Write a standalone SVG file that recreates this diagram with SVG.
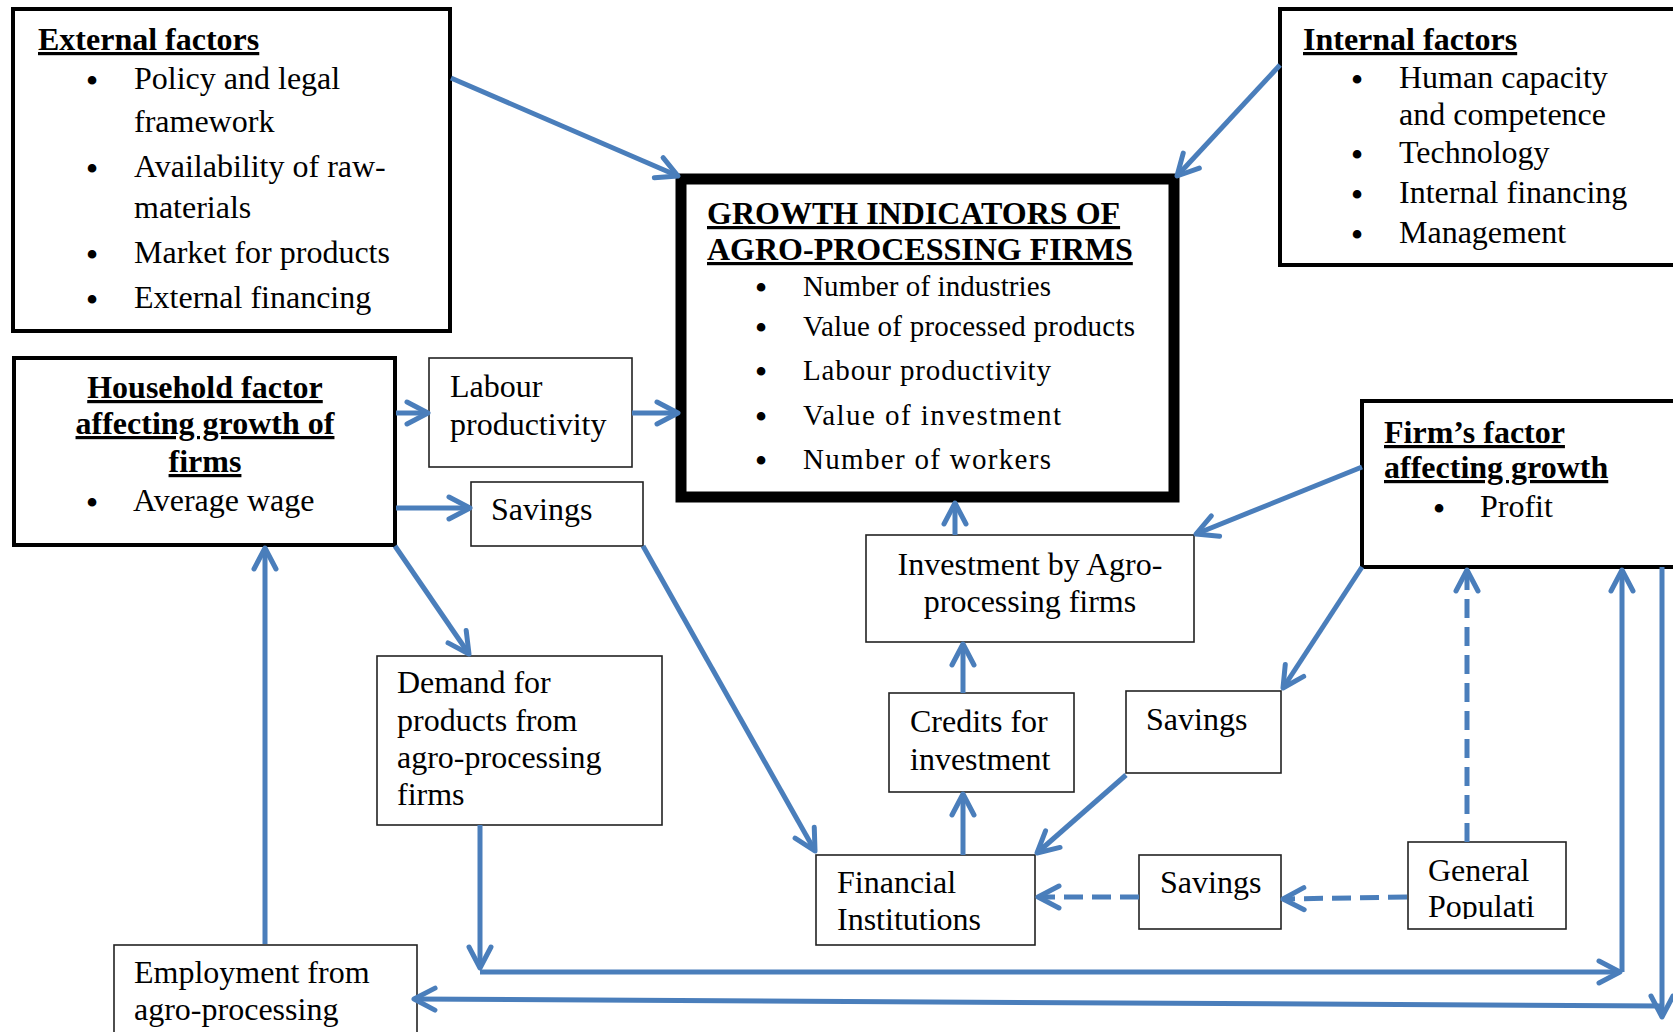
<svg xmlns="http://www.w3.org/2000/svg" width="1673" height="1032" viewBox="0 0 1673 1032">
<style>
text{font-family:"Liberation Serif","Times New Roman",serif;font-size:32px;fill:#000}
.b{font-weight:bold}
.u{text-decoration:underline;text-decoration-thickness:3px;text-decoration-skip-ink:none}
.s29{font-size:29px}
.mid{text-anchor:middle}
.bl{font-size:36px;text-anchor:middle}
.thick{fill:#fff;stroke:#000;stroke-width:4}
.thin{fill:#fff;stroke:#222;stroke-width:1.6}
.main{fill:#fff;stroke:#000;stroke-width:11}
.c{fill:none;stroke:#4a7ebb;stroke-width:5}
.d{stroke-dasharray:19 9}
.arr{marker-end:url(#ah)}
</style>
<defs>
<marker id="ah" markerUnits="userSpaceOnUse" markerWidth="40" markerHeight="40" viewBox="-30 -20 40 40" refX="0" refY="0" orient="auto" overflow="visible">
<path d="M-21,-11 L0,0 L-21,11" fill="none" stroke="#4a7ebb" stroke-width="5" stroke-linecap="round" stroke-linejoin="round"/>
</marker>
<clipPath id="gpclip"><rect x="1408" y="842" width="160" height="77"/></clipPath>
</defs>
<rect width="1673" height="1032" fill="#fff"/>

<g id="external">
<rect class="thick" x="13" y="9" width="437" height="322"/>
<text class="b u" x="38" y="50">External factors</text>
<text class="bl" x="92" y="93">•</text>
<text x="134" y="89">Policy and legal</text>
<text x="134" y="132">framework</text>
<text class="bl" x="92" y="181">•</text>
<text x="134" y="177">Availability of raw-</text>
<text x="134" y="218">materials</text>
<text class="bl" x="92" y="267">•</text>
<text x="134" y="263">Market for products</text>
<text class="bl" x="92" y="312">•</text>
<text x="134" y="308">External financing</text>
</g>

<g id="internal">
<rect class="thick" x="1280" y="9" width="420" height="256"/>
<text class="b u" x="1303" y="50">Internal factors</text>
<text class="bl" x="1357" y="92">•</text>
<text x="1399" y="88">Human capacity</text>
<text x="1399" y="125">and competence</text>
<text class="bl" x="1357" y="167">•</text>
<text x="1399" y="163">Technology</text>
<text class="bl" x="1357" y="207">•</text>
<text x="1399" y="203">Internal financing</text>
<text class="bl" x="1357" y="247">•</text>
<text x="1399" y="243">Management</text>
</g>

<g id="growth-indicators">
<rect class="main" x="681" y="179" width="493" height="318"/>
<text class="b u" x="707" y="224">GROWTH INDICATORS OF</text>
<text class="b u" x="707" y="260">AGRO-PROCESSING FIRMS</text>
<text class="bl" x="761" y="300">•</text>
<text class="s29" x="803" y="296" textLength="248" lengthAdjust="spacing">Number of industries</text>
<text class="bl" x="761" y="340">•</text>
<text class="s29" x="803" y="336" textLength="332" lengthAdjust="spacing">Value of processed products</text>
<text class="bl" x="761" y="384">•</text>
<text class="s29" x="803" y="380" textLength="248" lengthAdjust="spacing">Labour productivity</text>
<text class="bl" x="761" y="429">•</text>
<text class="s29" x="803" y="425" textLength="258" lengthAdjust="spacing">Value of investment</text>
<text class="bl" x="761" y="473">•</text>
<text class="s29" x="803" y="469" textLength="248" lengthAdjust="spacing">Number of workers</text>
</g>

<g id="household">
<rect class="thick" x="14" y="358" width="381" height="187"/>
<text class="b u mid" x="205" y="398">Household factor</text>
<text class="b u mid" x="205" y="434">affecting growth of</text>
<text class="b u mid" x="205" y="472">firms</text>
<text class="bl" x="92" y="515">•</text>
<text x="133" y="511">Average wage</text>
</g>

<g id="labour">
<rect class="thin" x="429" y="358" width="203" height="109"/>
<text x="450" y="397">Labour</text>
<text x="450" y="435">productivity</text>
</g>

<g id="savings-household">
<rect class="thin" x="471" y="482" width="172" height="64"/>
<text x="491" y="520">Savings</text>
</g>

<g id="demand">
<rect class="thin" x="377" y="656" width="285" height="169"/>
<text x="397" y="693">Demand for</text>
<text x="397" y="731">products from</text>
<text x="397" y="768">agro-processing</text>
<text x="397" y="805">firms</text>
</g>

<g id="employment">
<rect class="thin" x="114" y="945" width="303" height="110"/>
<text x="134" y="983">Employment from</text>
<text x="134" y="1020">agro-processing</text>
</g>

<g id="investment">
<rect class="thin" x="866" y="535" width="328" height="107"/>
<text class="mid" x="1030" y="575">Investment by Agro-</text>
<text class="mid" x="1030" y="612">processing firms</text>
</g>

<g id="credits">
<rect class="thin" x="889" y="693" width="185" height="99"/>
<text x="910" y="732">Credits for</text>
<text x="910" y="770">investment</text>
</g>

<g id="savings-firm">
<rect class="thin" x="1126" y="691" width="155" height="82"/>
<text x="1146" y="730">Savings</text>
</g>

<g id="financial">
<rect class="thin" x="816" y="855" width="219" height="90"/>
<text x="837" y="893">Financial</text>
<text x="837" y="930">Institutions</text>
</g>

<g id="savings-population">
<rect class="thin" x="1139" y="855" width="142" height="74"/>
<text x="1160" y="893">Savings</text>
</g>

<g id="general-population">
<rect class="thin" x="1408" y="842" width="158" height="87"/>
<text x="1428" y="881">General</text>
<text x="1428" y="917" clip-path="url(#gpclip)">Populati</text>
</g>

<g id="firm">
<rect class="thick" x="1362" y="401" width="340" height="166"/>
<text class="b u" x="1384" y="443">Firm’s factor</text>
<text class="b u" x="1384" y="478">affecting growth</text>
<text class="bl" x="1439" y="521">•</text>
<text x="1480" y="517">Profit</text>
</g>

<g id="connectors">
<path class="c arr" d="M451,78 L678,176"/>
<path class="c arr" d="M1280,65 L1177,176"/>
<path class="c arr" d="M396,413 L428,413"/>
<path class="c arr" d="M632,413 L678,413"/>
<path class="c arr" d="M396,508 L470,508"/>
<path class="c arr" d="M395,546 L469,654"/>
<path class="c arr" d="M265,944 L265,548"/>
<path class="c arr" d="M643,546 L815,851"/>
<path class="c arr" d="M480,825 L480,968"/>
<path class="c arr" d="M480,972 L1620,972"/>
<path class="c arr" d="M1622,972 L1622,570"/>
<path class="c arr" d="M1662,567 L1662,1017"/>
<path class="c arr" d="M1662,1006 L414,999"/>
<path class="c arr" d="M955,535 L955,503"/>
<path class="c arr" d="M963,693 L963,644"/>
<path class="c arr" d="M963,855 L963,794"/>
<path class="c arr" d="M1362,467 L1196,534"/>
<path class="c arr" d="M1362,567 L1283,688"/>
<path class="c arr" d="M1126,775 L1037,853"/>
<path class="c d arr" d="M1139,897 L1038,897"/>
<path class="c d arr" d="M1407,897 L1283,899"/>
<path class="c d arr" d="M1467,842 L1467,570"/>
</g>
</svg>
